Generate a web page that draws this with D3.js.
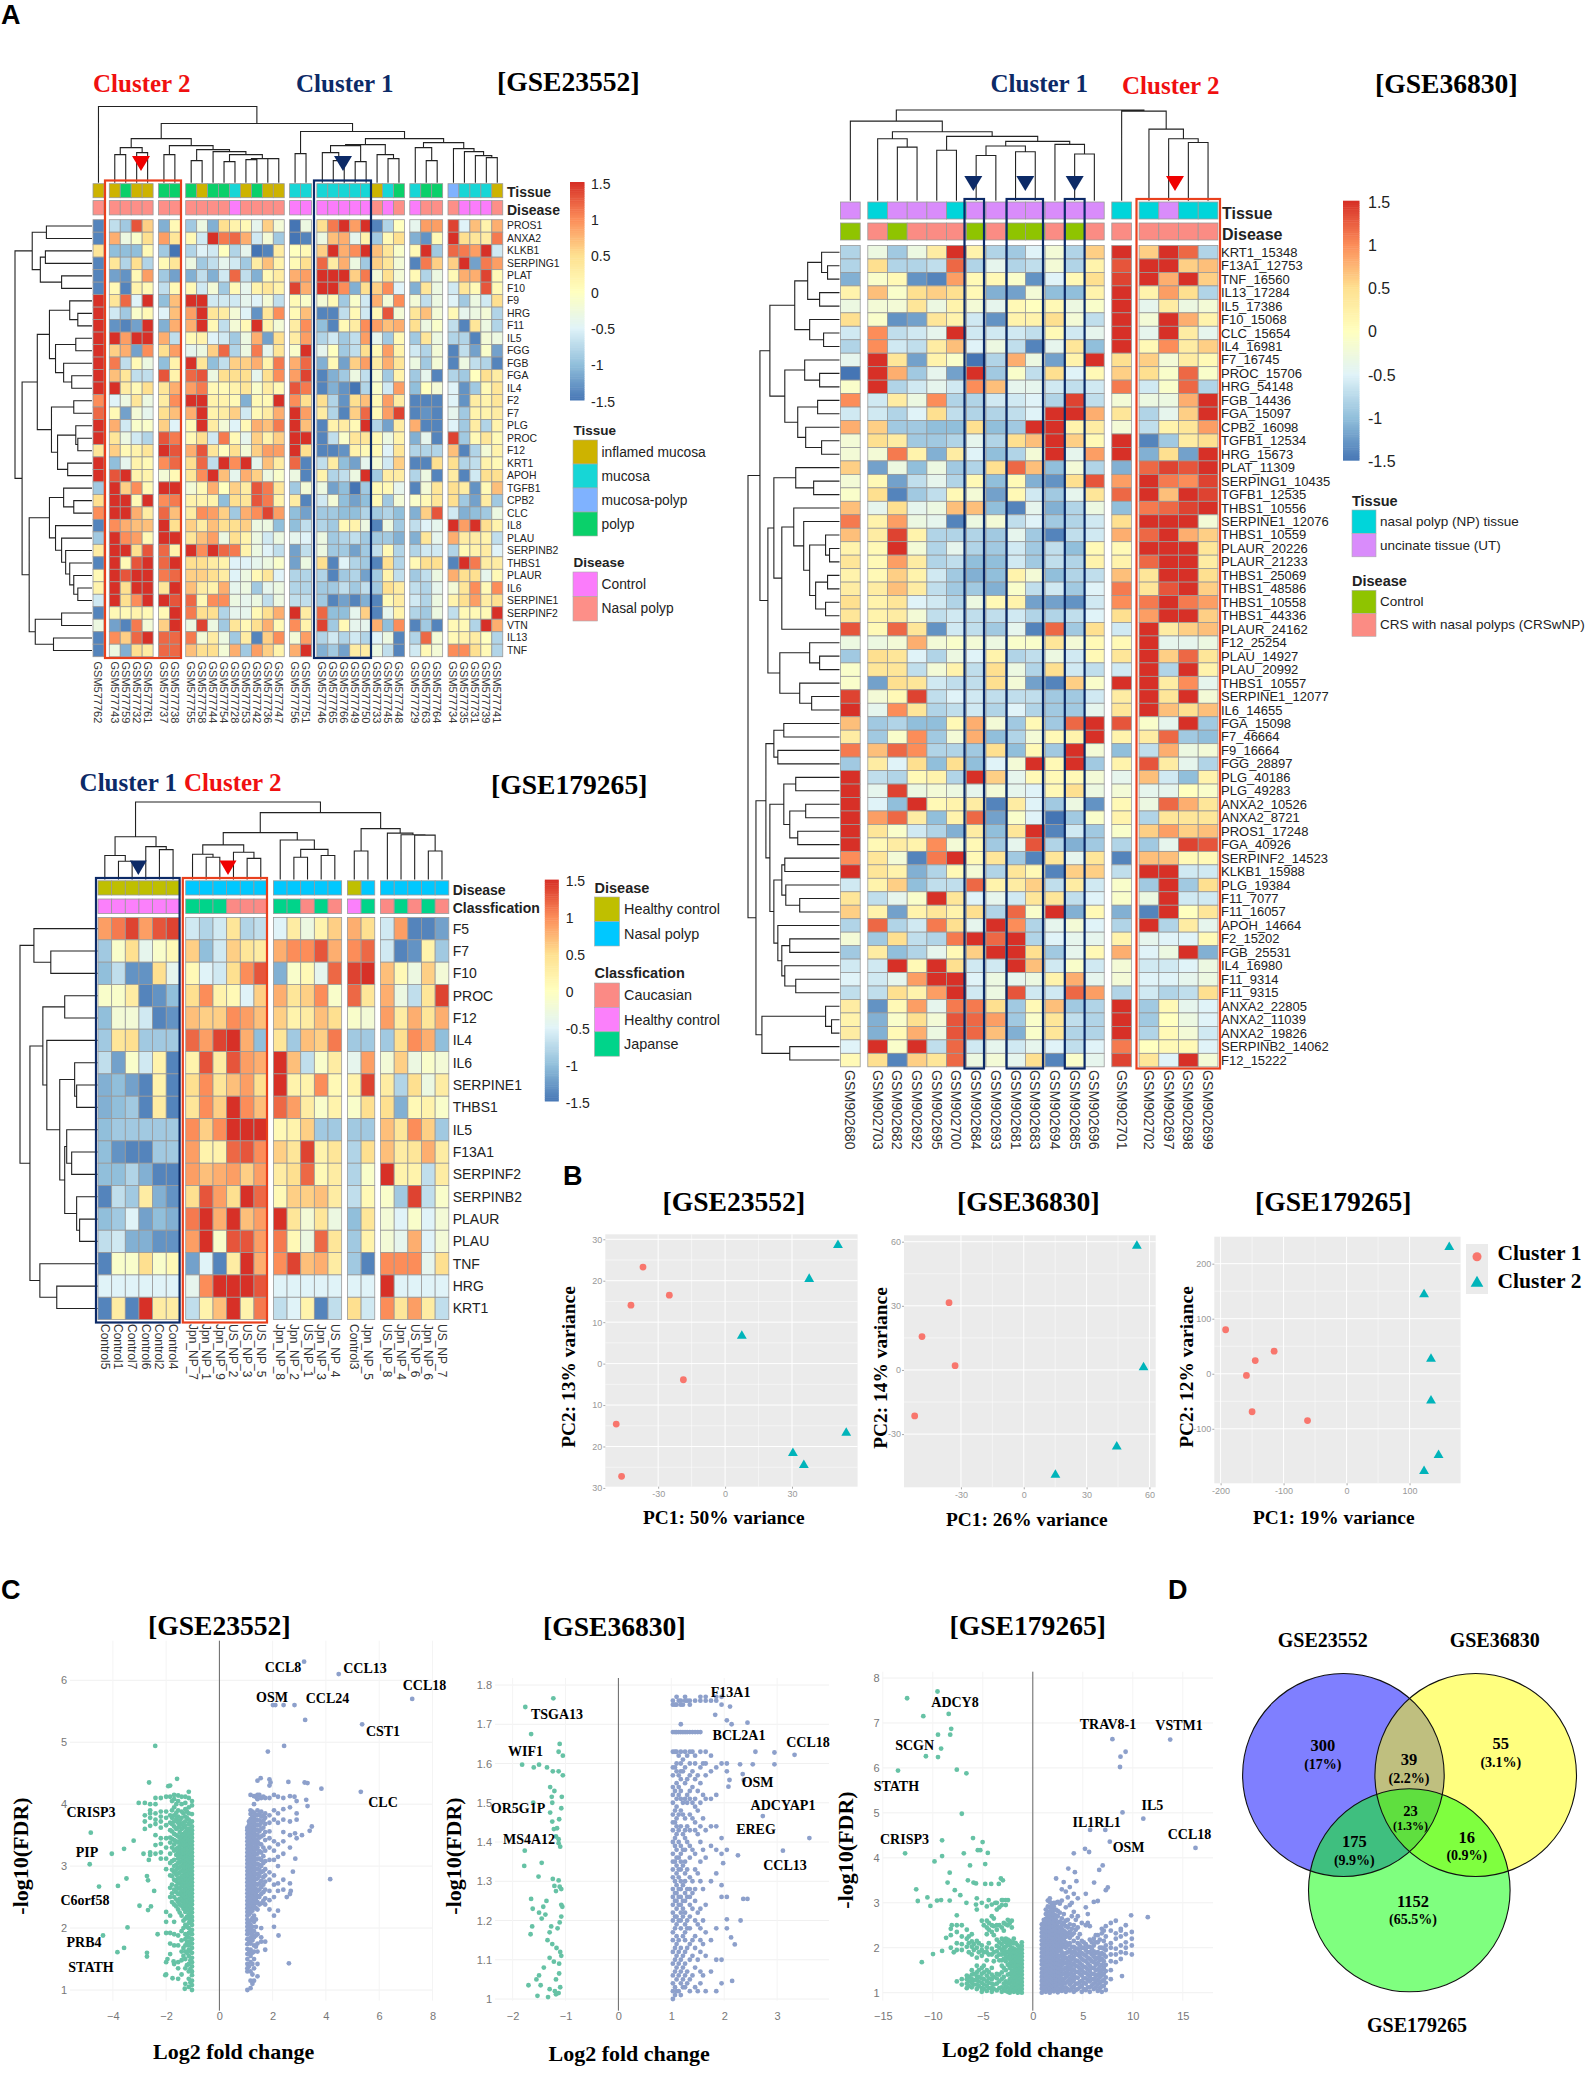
<!DOCTYPE html>
<html><head><meta charset="utf-8">
<style>html,body{margin:0;background:#fff}svg{display:block}text{font-family:"Liberation Sans",Arial,sans-serif}</style>
<script src="https://cdn.jsdelivr.net/npm/d3@7"></script></head>
<body><svg id="c" width="1595" height="2074"></svg>
<script>
// ---------- Panel A, GSE23552 ----------
const h1Rows=["PROS1","ANXA2","KLKB1","SERPING1","PLAT","F10","F9","HRG","F11","IL5","FGG","FGB","FGA","IL4","F2","F7","PLG","PROC","F12","KRT1","APOH","TGFB1","CPB2","CLC","IL8","PLAU","SERPINB2","THBS1","PLAUR","IL6","SERPINE1","SERPINF2","VTN","IL13","TNF"];
const h1Cols=["762","743","759","732","761","737","738","755","758","744","754","728","753","742","736","747","756","751","746","765","766","749","750","733","745","748","729","763","764","734","735","731","739","741"];
const h1Groups=[1,4,2,9,2,8,3,5];
const h1Tissue="iipiipppippmipiimmmmmmmimpmppbmmmi".split("");
const h1Disease="NNNNNNNNNNNCNNNNCCCCCCCNCNCNNNCCCN".split("");
const h1Values=[
[-14,-7,-9,13,6,-11,1,-9,-3,-11,5,2,1,-4,6,-2,-15,-3,5,11,15,9,15,-14,-8,0,-4,9,9,14,-5,7,2,8],
[-14,8,-3,-1,5,9,4,1,-6,15,11,12,8,-6,-2,-9,-15,-14,-3,7,8,-4,2,-9,1,5,-11,-13,1,15,5,4,3,11],
[4,-10,-10,-10,1,-9,-15,-8,-5,-6,0,-8,-4,-15,-14,3,0,1,6,15,8,10,15,7,4,-1,1,15,-9,12,11,9,15,-6],
[-14,4,-8,5,-8,1,4,-3,-9,-7,-4,-6,-9,3,7,2,1,5,12,3,8,-3,-9,6,4,-2,-14,11,6,6,15,-12,11,9],
[-14,-12,-13,1,9,-9,-12,-11,-7,-11,-6,12,-7,-11,1,3,8,9,15,15,15,6,11,-2,5,-2,1,-8,-3,1,8,8,14,1],
[-14,1,-14,2,1,-7,1,1,-6,-2,-9,1,-4,2,4,2,14,8,15,15,10,-11,5,6,10,-5,-11,4,-3,-6,4,1,13,1],
[15,4,12,-5,15,-10,7,15,15,-6,-6,-6,-4,-5,-2,-7,1,-1,-2,1,-9,-1,-6,8,-2,10,-2,-7,-3,-5,-9,-3,-6,5],
[15,-6,-9,-1,1,-5,7,9,15,4,3,-2,-5,-13,4,10,1,7,-14,-14,-7,1,-6,1,13,-2,4,7,-2,1,-4,-3,-2,-8],
[15,-13,-14,-12,15,-11,8,8,15,1,-7,-2,1,15,2,-2,3,10,-10,-14,1,3,10,9,7,8,5,-3,-1,-7,-14,4,-3,-8],
[15,15,9,15,15,8,-7,1,2,-5,-6,-9,-3,8,-12,5,3,9,-8,-6,-9,-7,9,-4,-9,1,-9,4,-3,-8,-8,-14,-2,-3],
[15,6,8,-12,10,5,9,-4,-3,6,12,-8,-3,11,-4,4,-1,15,-4,0,-9,-7,5,1,9,2,-6,-8,-2,-14,-7,-12,-1,-12],
[15,11,-7,1,-3,-10,2,15,4,-10,-7,6,6,8,2,11,8,12,-11,1,-12,6,9,3,8,4,-3,-9,-2,-14,-3,-7,-8,-14],
[15,7,4,-7,-7,13,2,12,13,-3,5,5,5,-4,5,10,9,14,-14,-11,-9,-3,-7,-2,-9,2,-9,-4,-14,-8,-9,0,5,3],
[15,15,3,1,5,4,8,9,11,1,1,2,4,-1,3,1,13,11,-14,-11,-13,-15,-8,-1,-6,9,-10,0,-2,-5,-13,-9,1,4],
[10,-5,-3,4,-3,3,10,15,15,2,2,1,-11,1,1,15,10,5,5,-8,-13,5,7,1,9,3,-14,-14,-14,-5,-13,3,2,4],
[12,1,-12,-2,-4,5,7,8,15,2,3,6,-6,1,3,8,15,9,3,-8,-14,6,12,1,9,14,-14,-13,-14,-4,-9,2,2,3],
[15,8,-6,-1,-1,6,-5,1,15,3,-2,-5,1,8,7,11,15,7,-14,2,3,1,15,-8,-12,3,8,-14,-14,-5,-9,3,-8,2],
[15,4,-3,-6,-8,13,11,1,5,-6,11,1,-4,6,2,6,15,15,-14,-7,-1,4,4,1,-3,2,-11,-4,-14,14,-9,1,4,1],
[4,6,1,2,4,15,13,8,13,4,0,5,-2,6,9,9,15,5,-14,-14,-13,2,1,1,-5,4,-8,-8,-8,7,-14,-8,-2,2],
[15,-10,-4,2,1,10,12,5,12,-7,15,10,15,-4,7,3,12,-14,-7,3,-10,-12,-4,-2,-6,6,-14,-14,5,5,-8,-7,2,1],
[15,13,15,2,2,-2,1,4,10,15,7,-4,8,6,-3,-1,-3,-14,2,-8,-7,-3,15,-9,3,3,-8,-3,-14,3,-14,-6,5,5],
[-9,15,6,10,1,15,15,-2,1,8,0,6,3,13,11,4,-9,-2,-3,-12,-10,-15,-9,1,1,-4,-14,-2,4,5,3,-13,1,7],
[5,15,15,1,15,10,11,2,2,2,-10,5,4,13,11,2,3,-14,-6,-2,-10,-12,-10,1,-9,-2,-1,1,4,5,-9,-12,3,-9],
[10,15,15,8,3,12,7,3,10,9,6,-9,8,10,14,9,-10,-12,-9,-9,-10,-10,-8,-9,-8,-10,-11,6,13,-6,-11,-10,-9,-3],
[-14,10,8,7,7,15,5,6,3,7,5,5,6,-3,-3,-10,-10,-7,-8,-9,1,2,-3,-14,-3,-9,-7,-5,-4,15,9,15,5,2],
[-9,15,10,9,1,15,15,4,7,9,-3,5,2,-3,-6,-3,-4,-5,-3,-9,-8,-7,-9,-9,-9,-11,-11,4,-4,8,3,3,2,-7],
[3,15,15,5,13,12,2,15,10,15,12,11,2,-3,-5,-7,-12,-7,-3,-9,-9,-12,-9,-7,1,-8,-8,-6,-6,-8,1,2,3,-5],
[-14,15,1,13,15,12,15,5,5,3,2,-5,-5,-4,-3,-1,-12,-3,5,-14,-5,-8,-9,-14,5,-8,1,5,5,-14,15,11,3,3],
[1,15,13,15,15,11,12,6,6,5,3,-5,-3,1,4,-5,-8,-8,-8,-14,-9,-8,-12,-9,2,-7,-9,-7,-3,8,5,5,-4,1],
[2,15,5,15,15,4,15,7,3,2,8,-4,-3,-9,-4,-3,-8,-8,-9,-9,-7,-9,-7,-9,5,3,-7,-8,-4,-2,4,10,1,10],
[-6,15,5,10,15,15,13,12,1,10,10,-3,-4,-3,-7,-3,-7,-7,-9,-14,-12,-14,-11,-14,1,3,-6,-8,-3,2,5,9,3,5],
[-14,1,1,2,1,1,15,11,5,5,-8,-4,-4,1,5,8,15,3,12,-10,-10,-4,6,-14,-4,2,-8,-9,-3,-7,1,1,1,15],
[-3,-12,-14,11,-2,6,15,-3,14,-3,-9,4,1,5,8,1,10,2,14,-9,1,-4,-4,8,-10,10,-14,-9,-14,1,1,-8,15,8],
[-14,10,6,12,15,12,12,11,-2,3,-3,-9,3,-14,6,10,-2,9,-8,-6,-8,-6,-8,-5,-3,-14,-8,12,-2,1,2,3,0,-8],
[-14,-3,-11,5,3,12,12,7,5,5,-2,8,-9,9,6,2,8,15,-11,-9,-12,3,3,-3,-7,-14,-6,1,-2,10,10,5,1,-8]];
const h1ColTree=[76,0,[59,[44,[35,[28,1,2],[30,3,4]],[37,[28,5,6],[33,[22,7,8],[31,9,[28,[21,10,11],[24,[23,12,13],[24,14,15]]]]]]],[51,[29,16,17],[44,[38,[37,[30,18,[22,19,20]],[21,21,22]],[28,23,[24,24,25]]],[40,[35,26,[22,27,28]],[34,29,[31,30,[27,31,[25,32,33]]]]]]]]];
const h1RowTree=[76,[59,[45,0,1],[51,[46,2,3],[30,4,5]]],[69,[54,[42,[22,6,[14,7,8]],[36,[16,9,10],[28,11,[20,12,13]]]],[40,[18,14,15],[34,[16,16,[14,17,18]],[24,19,20]]]],[62,[42,[28,21,[18,22,23]],[36,24,[30,25,[26,26,[22,27,[18,28,[14,29,30]]]]]]],[56,[30,31,32],[38,33,34]]]]];

// ---------- Panel A, GSE36830 ----------
const h2Rows=["KRT1_15348","F13A1_12753","TNF_16560","IL13_17284","IL5_17386","F10_15068","CLC_15654","IL4_16981","F7_16745","PROC_15706","HRG_54148","FGB_14436","FGA_15097","CPB2_16098","TGFB1_12534","HRG_15673","PLAT_11309","SERPING1_10435","TGFB1_12535","THBS1_10556","SERPINE1_12076","THBS1_10559","PLAUR_20226","PLAUR_21233","THBS1_25069","THBS1_48586","THBS1_10558","THBS1_44336","PLAUR_24162","F12_25254","PLAU_14927","PLAU_20992","THBS1_10557","SERPINE1_12077","IL6_14655","FGA_15098","F7_46664","F9_16664","FGG_28897","PLG_40186","PLG_49283","ANXA2_10526","ANXA2_8721","PROS1_17248","FGA_40926","SERPINF2_14523","KLKB1_15988","PLG_19384","F11_7077","F11_16057","APOH_14664","F2_15202","FGB_25531","IL4_16980","F11_9314","F11_9315","ANXA2_22805","ANXA2_11039","ANXA2_19826","SERPINB2_14062","F12_15222"];
const h2Cols=["GSM902680","GSM902703","GSM902682","GSM902692","GSM902695","GSM902700","GSM902684","GSM902693","GSM902681","GSM902683","GSM902694","GSM902685","GSM902696","GSM902701","GSM902702","GSM902697","GSM902698","GSM902699"];
const h2Groups=[1,12,1,4];
const h2Tissue="UNUUUNUUUUUUUNNUNN".split("");
const h2Disease="CRCRRRCRCCRCRRRRRR".split("");
const h2Values=[
[-8,-3,-9,-3,3,15,2,-8,-9,-5,-2,-8,6,15,6,15,12,-8],
[-8,5,-8,-8,-7,12,-8,-4,-8,-7,-2,-8,2,13,15,15,6,7],
[-11,-1,1,-13,-14,9,1,1,-1,-13,-5,1,5,14,15,8,15,6],
[2,7,-1,5,6,5,1,-11,-12,-2,-10,-10,2,15,2,9,5,-8],
[-3,-2,-2,4,-3,2,-2,-4,1,0,1,-3,-1,15,-4,3,-3,-2],
[5,-1,-13,-12,4,2,-6,-13,2,2,5,-2,-7,15,-2,15,8,2],
[-6,10,-7,-6,-4,15,-6,-6,-6,-7,1,-6,-4,15,-4,15,3,-4],
[-8,10,-6,-7,3,7,-5,-3,-7,-14,-4,4,-10,15,1,10,3,6],
[-4,15,4,-12,2,-1,-15,-8,8,-3,-12,2,15,5,6,-2,3,1],
[-15,15,8,-9,-4,-12,15,-9,-1,-7,5,-5,1,6,5,-1,12,-1],
[-1,15,-8,-6,-4,-6,10,7,-4,-4,-6,-7,-6,11,-6,-1,12,-8],
[10,-6,3,-3,10,-8,-8,-6,-6,-5,-8,14,-7,-2,-3,-3,8,15],
[-6,-6,-8,-5,5,-7,-8,-8,-7,-5,15,15,8,4,-8,-4,6,15],
[8,6,-9,-9,-10,-10,5,-10,-9,15,15,2,3,-2,-7,2,4,9],
[-2,5,3,-9,-9,-8,-4,-8,5,7,15,6,1,15,-14,-9,3,5],
[-2,-2,11,2,-11,3,-5,-10,-8,-2,15,-4,9,15,-11,5,-12,15],
[6,-12,-3,-10,-3,-9,-8,5,12,7,-10,-2,-8,-11,12,14,13,15],
[-2,1,-12,-7,-4,-8,1,-10,1,-11,-13,5,13,9,15,11,10,14],
[-1,5,-14,-9,-7,1,-2,-12,1,-6,-9,-4,4,12,15,7,15,14],
[7,-4,5,-4,-3,7,7,-10,-14,-4,-11,-8,-3,-10,11,12,14,15],
[11,2,9,-3,-4,-14,-3,-2,-7,-5,-9,-8,-6,5,15,15,15,-2],
[7,3,14,2,-8,-8,-8,-9,-4,-9,-14,-7,-6,8,12,15,8,6],
[2,1,15,-2,-8,-4,-8,-9,-6,-9,-7,-10,1,1,15,15,15,4],
[4,1,9,3,-8,-7,-10,-10,-6,-9,-7,-8,2,2,12,15,15,3],
[2,1,6,2,-6,-9,-11,-10,2,-2,-10,-8,-7,7,4,15,15,5],
[3,3,7,3,-7,-9,-9,-11,-1,-7,-6,-9,-5,11,4,13,15,6],
[5,2,4,-5,-6,-8,-3,1,2,-12,-12,-13,-6,10,11,15,11,9],
[4,2,3,-2,-7,-6,-7,-7,-6,-8,-8,-7,-5,5,9,15,15,6],
[13,1,12,4,-13,-6,-7,-9,-4,-14,12,-9,5,-6,15,3,6,7],
[-3,-3,-2,8,-2,-1,-2,-3,-1,-1,4,-2,1,1,15,-4,-4,-3],
[-9,5,4,-5,-8,-3,-5,2,-8,-7,-3,-6,1,4,15,6,12,4],
[-1,4,4,-7,-2,2,-7,5,-3,-8,5,-6,-7,-6,15,-8,15,2],
[-1,-12,5,4,-6,-7,-7,5,-2,-12,-14,6,-1,15,15,3,10,-4],
[14,-2,1,14,-7,-5,-6,-7,-7,-7,-9,-9,-6,3,15,4,15,-2],
[15,-4,10,4,-8,-7,-6,-8,-5,-8,-9,-9,-4,4,15,7,5,7],
[7,-9,-8,-10,-10,1,8,-2,-9,1,-9,12,15,13,-1,-4,15,-9],
[3,-9,-1,10,-9,-2,8,-10,-8,-2,1,2,15,2,3,12,-9,-10],
[11,7,12,10,-8,-8,-9,5,-10,1,-9,15,-2,-10,-7,8,-3,-2],
[-9,3,-5,5,-10,5,-10,-5,-2,15,1,15,-9,2,13,3,-4,-8],
[15,-7,-8,1,2,-8,15,6,-4,1,1,1,-2,-4,7,-6,-10,2],
[15,-4,14,-3,-2,-3,-4,-2,-4,-5,1,5,-3,-2,-4,-4,0,-1],
[15,-5,-10,15,1,2,3,-14,3,-5,-9,-3,-13,1,-3,12,8,4],
[15,9,12,3,-10,2,12,-12,-1,-5,-15,-9,-1,2,-8,4,4,4],
[15,4,-1,-6,-8,-11,3,-10,4,15,-14,-6,-9,-1,6,9,6,7],
[15,1,3,2,10,-2,1,-9,-4,13,-8,-11,-9,-8,-9,-4,14,13],
[10,4,-2,-14,11,15,1,4,-9,-14,4,-4,4,-14,7,7,1,1],
[15,4,2,-11,-8,1,-2,-8,4,1,-14,6,6,-7,15,15,-6,-6],
[-6,2,6,-10,-7,-7,12,2,3,6,-7,3,-6,-1,-9,15,-9,5],
[4,-7,-4,-1,15,4,-5,-4,-6,4,4,-7,-5,-1,-3,15,-6,-6],
[6,2,-12,2,4,2,5,-8,12,-1,15,-11,1,-11,-14,15,0,4],
[-8,12,-8,-6,11,5,-4,15,10,-8,-4,-2,-5,-8,15,-8,3,-4],
[-2,-9,5,-7,-8,11,15,12,15,-8,-5,-4,-4,2,-4,-5,-5,1],
[-9,3,-10,-8,-4,1,6,15,15,5,-9,-4,1,8,-5,-3,15,-11],
[-6,-6,15,1,15,5,-6,-6,15,7,-6,-1,-6,-2,-6,-6,-5,-3],
[-5,-6,-4,9,15,15,-5,-3,-4,-3,2,8,-4,-2,-5,-5,-4,-3],
[-7,-7,5,2,9,15,-6,-3,13,-6,-6,12,9,-8,-6,-8,-7,5],
[3,-13,1,9,-4,11,11,5,-9,1,7,-9,-8,15,-9,1,-4,-5],
[2,-11,-1,5,-2,13,12,9,-9,-1,4,-7,-8,15,-9,0,-3,-5],
[3,-11,1,8,-3,13,12,7,-11,-1,4,-8,-8,15,-8,1,-2,-6],
[-5,15,-1,15,-7,12,-6,-4,-6,-4,-5,-7,-5,11,0,1,1,-5],
[1,5,-14,6,4,12,-3,-2,-4,5,-14,-1,-4,14,4,-5,15,-2]];
const h2ColTree=[90.7,[79.6,0,[68.9,[62,1,[53.6,2,3]],[64.3,[50.5,4,5],[59.3,[54.7,[45.2,6,7],[49,8,9]],[56.3,10,[46.7,11,12]]]]]],[89.6,13,[71.6,14,[62,15,[58.2,16,17]]]]];
const h2RowTree=[92,[80,[70,[45,[32,[18,0,[12,1,2]],[20,3,4]],[30,5,[16,6,7]]],[55,[35,8,[20,9,10]],[42,[22,11,12],[34,13,[18,14,15]]]]],[72,[66,[44,16,[26,17,18]],[58,[46,19,[36,20,[30,[14,21,[10,22,23]],[24,[12,24,25],[14,26,27]]]]],28]],[60,[30,29,[20,30,31]],[40,32,[28,33,34]]]]],[84,[74,[66,[56,35,36],[62,37,38]],[70,[56,[44,39,40],[50,[34,41,42],[42,43,44]]],[66,[58,[55,45,46],[54,47,[40,48,49]]],[62,50,[58,[50,51,52],[55,53,[44,54,55]]]]]]],[78,[14,56,[8,57,58]],[50,59,60]]]];

// ---------- Panel A, GSE179265 ----------
const h3Rows=["F5","F7","F10","PROC","F12","IL4","IL6","SERPINE1","THBS1","IL5","F13A1","SERPINF2","SERPINB2","PLAUR","PLAU","TNF","HRG","KRT1"];
const h3Cols=["Control5","Control1","Control7","Control6","Control2","Control4","Jpn_NP_7","Jpn_NP_1","Jpn_NP_9","US_NP_2","US_NP_3","US_NP_5","Jpn_NP_8","Jpn_NP_2","US_NP_1","Jpn_NP_3","US_NP_4","Control3","Jpn_NP_5","US_NP_8","Jpn_NP_4","US_NP_6","Jpn_NP_6","US_NP_7"];
const h3Groups=[6,6,5,2,5];
const h3Disease="HHHHHHNNNNNNNNNNNHNNNNNN".split("");
const h3Class="KKKKKKJJJCCCJJCJCKJCJCJC".split("");
const h3Values=[
[9,11,14,9,13,14,-6,-8,-6,4,-8,-7,-5,3,-3,2,6,8,5,-6,9,-14,-14,-12],
[-9,-1,5,-4,-1,1,6,-10,-6,6,4,3,8,10,10,13,8,10,12,-6,-14,-13,2,-9],
[-10,-7,-13,-13,5,-4,1,-5,-6,5,10,13,-11,-1,1,-4,12,14,15,7,1,-3,6,-2],
[-1,-1,3,-14,-13,-10,5,10,2,1,-5,6,8,4,6,10,-1,12,4,8,-3,-7,4,14],
[-10,-2,-2,-6,-14,-13,7,6,6,10,9,7,6,2,3,7,5,-1,-2,9,3,8,4,8],
[-9,4,5,-9,-9,-9,12,9,14,15,8,-10,4,-9,7,6,11,-9,-9,-9,5,10,8,-10],
[-7,-12,-1,-6,2,-14,2,13,3,13,9,8,15,7,-7,-1,3,-4,9,-2,6,-3,-1,-2],
[-11,-10,-12,-14,2,-14,5,10,4,7,9,5,15,2,2,10,1,2,14,3,-8,5,-3,3],
[-11,-10,-9,-14,3,-14,4,10,6,15,10,7,12,9,3,-1,2,-1,5,5,-11,1,2,-1],
[-10,-9,-9,-9,-9,-9,10,6,10,15,15,15,1,2,6,-9,-9,-9,-9,7,4,10,6,-9],
[-10,-13,-14,-14,-9,-9,9,2,2,12,13,10,6,4,14,2,4,-8,5,7,3,4,8,3],
[-10,-10,-8,-11,-14,-14,9,7,8,9,6,9,3,5,12,1,3,-8,-1,15,2,2,-7,3],
[-14,-7,-9,3,-11,-13,5,13,9,5,15,12,1,6,6,7,3,-7,1,-1,-9,14,-7,-1],
[-10,-9,-5,-12,-10,-11,11,15,8,15,7,9,15,4,-2,4,-3,-10,4,-2,-5,-1,-5,-2],
[-7,-6,-11,-11,-13,-13,9,15,-1,13,13,9,11,1,-3,12,4,-9,2,-2,-4,8,-5,-2],
[-14,-1,-1,5,-1,1,-12,-5,-14,3,15,8,10,14,7,8,3,-9,-14,10,10,10,-4,5],
[-5,-5,-5,-5,-5,-5,-4,10,15,15,15,13,-5,-5,-5,-5,-5,-5,-5,15,-5,-5,-5,-5],
[-14,3,-14,15,3,3,-7,2,7,15,2,11,-7,-5,2,-14,-7,5,-6,10,4,9,3,-7]];
const h3ColTree=[77.6,[42.9,[24.1,0,[18.4,1,2]],[33,3,[30,4,5]]],[67,[47,[34.7,[25.3,6,[22.4,7,8]],[27.3,9,[21.2,10,11]]],[39.6,12,[30.2,[22.4,13,14],[24.1,15,16]]]],[51,[28.6,17,18],[46.5,19,[44.9,20,[44.5,21,[28.6,22,23]]]]]]];
const h3RowTree=[78,[64,0,[47,1,2]],[68,[55,[33,3,4],[51,5,[38,[23,6,[21,7,8]],[33,[31,9,[26,10,11]],[21,12,[18,13,14]]]]]],[58,15,[41,16,17]]]];

// ---------- Panel B, PCA ----------
const pca1C1=[[-36.8,23.3],[-25,16.5],[-42.2,14.1],[-18.7,-3.9],[-48.8,-14.6],[-46.4,-27.2]];
const pca1C2=[[50.6,28.6],[37.7,20.4],[7.5,6.7],[54.3,-16.7],[30.4,-21.6],[35.3,-24.5]];
const pca2C1=[[-35.7,31.5],[-48.6,15.6],[-32.8,2],[-52.1,-21.5]];
const pca2C2=[[54,58],[57.2,1.2],[44.4,-35.9],[15.1,-49.1]];
const pca3C1=[[-192,80],[-115,41],[-145,24],[-159,-3],[-150,-69],[-62,-85]];
const pca3C2=[[163,230],[123,144],[134,27],[134,-49],[146,-148],[123,-177]];

// ---------- Panel C, volcano: columns are [log2FC, -log10FDR, -log10FDR, ...] ----------
const v1DownCols=[
[-1.03,1,1.08,1.15,1.24,1.3,1.38,1.45,1.52,1.6,1.68,1.75,1.82,1.9,1.97,2.05,2.12,2.18,2.25,2.31,2.38,2.44,2.5,2.56,2.62,2.68,2.74,2.8,2.86,2.92,2.98,3.04,3.1,3.16,3.22,3.28,3.34,3.4,3.46,3.52,3.58,3.64,3.72,3.84,3.98,4.05],
[-1.09,1.12,1.34,1.48,1.62,1.78,1.94,2.09,2.2,2.27,2.35,2.41,2.47,2.53,2.59,2.65,2.71,2.77,2.83,2.89,2.95,3.01,3.07,3.13,3.19,3.25,3.31,3.37,3.43,3.49,3.55,3.61,3.7],
[-1.15,1.05,1.18,1.3,1.42,1.55,1.65,1.72,1.78,1.85,1.92,2,2.08,2.15,2.22,2.28,2.34,2.4,2.46,2.52,2.58,2.64,2.7,2.76,2.82,2.88,2.94,3,3.06,3.12,3.18,3.24,3.3,3.36,3.42,3.48,3.54,3.6,3.68,3.75,3.85,3.95,4.1,4.2],
[-1.22,1.4,1.6,1.76,1.88,2.02,2.18,2.3,2.36,2.42,2.48,2.54,2.6,2.66,2.72,2.78,2.84,2.9,2.96,3.02,3.08,3.14,3.2,3.26,3.32,3.38,3.44,3.5,3.6,3.78,3.88],
[-1.28,1.1,1.35,1.5,1.62,1.72,1.82,1.9,2.05,2.15,2.26,2.33,2.39,2.45,2.51,2.57,2.63,2.69,2.75,2.81,2.87,2.93,2.99,3.05,3.11,3.17,3.23,3.29,3.35,3.41,3.47,3.55,3.65,3.72,3.8,3.92,4.02,4.12],
[-1.35,1.55,1.68,2,2.12,2.31,2.37,2.43,2.49,2.55,2.61,2.67,2.73,2.79,2.85,2.91,2.97,3.03,3.09,3.15,3.21,3.27,3.33,3.39,3.45,3.52,3.62,3.7,3.85],
[-1.42,1.25,1.48,1.62,1.8,1.95,2.2,2.36,2.44,2.52,2.6,2.68,2.76,2.84,2.92,3,3.08,3.14,3.2,3.27,3.35,3.42,3.5,3.6,3.68,3.78,3.88,4,4.12],
[-1.49,2.25,2.38,2.47,2.56,2.64,2.72,2.8,2.9,2.98,3.06,3.16,3.24,3.32,3.4,3.46,3.55,3.66,3.74],
[-1.55,1.18,1.35,1.45,1.72,1.88,2.3,2.42,2.55,2.64,2.72,2.8,2.88,2.97,3.05,3.12,3.22,3.3,3.38,3.48,3.62,3.7,3.8,3.9,4.05,4.14],
[-1.62,2.35,2.46,2.58,2.68,2.76,2.86,2.94,3.02,3.18,3.28,3.4,3.5,3.6,3.76,3.86,4],
[-1.7,1.42,1.72,1.9,2.1,2.38,2.5,2.62,2.78,2.9,3,3.1,3.25,3.35,3.42,3.52,3.64,3.72,3.82,3.95,4.08,4.15],
[-1.78,2.42,2.56,2.7,2.84,2.94,3.08,3.3,3.44,3.56,3.68,3.78,3.9,4.05],
[-1.85,1.58,1.75,1.92,2.2,2.5,2.65,2.85,3.05,3.2,3.38,3.46,3.58,3.7,3.82,4.12,4.3],
[-2,1.25,1.45,1.92,2.1,2.26,2.95,3.12,3.3,3.45,3.66,3.78,3.88,4.12],
[-2.2,3.12,3.22,3.36,3.45,3.62,3.72,3.8,3.88,4.1],
[-2.4,3.2,3.34,3.5,3.68,3.75,3.85,4,4.1],
[-2.6,3.22,3.65,3.78,3.85,3.9,4],
[-2.8,3.72,3.82,3.6,4.02]];
const v1DownOut=[[-2.41,4.94],[-1.59,4.41],[-2.64,4.35],[-1.92,4.29],[-4.83,3.54],[-3.22,3.41],[-3.58,3.28],[-4.04,3.2],[-4.87,3.03],[-3.49,2.8],[-3.81,2.68],[-4.52,2.67],[-2.72,2.84],[-2.68,2.77],[-2.45,2.6],[-3,2.36],[-2.57,2.35],[-2.68,2.29],[-3.45,2.01],[-2.32,1.9],[-4.37,1.88],[-3.58,1.68],[-3.83,1.61],[-2.72,1.6],[-2.72,1.54],[-2.03,1.24],[-1.76,1.19],[-1.3,1.02],[-1.95,1.5],[-1.72,1.46],[-3.03,4.02],[-2.6,3.18],[-2.65,3.1],[-2.85,3.2]];
const v1UpCols=[
[1.05,1,1.3,1.35,1.42,1.5,1.58,1.66,1.74,1.82,1.9,1.96,2.02,2.08,2.14,2.2,2.26,2.32,2.38,2.44,2.5,2.56,2.62,2.68,2.74,2.8,2.86,2.92,2.98,3.04,3.1,3.16,3.22,3.28,3.34,3.4,3.46,3.52,3.58,3.62],
[1.11,1.38,1.6,1.8,1.94,2,2.1,2.22,2.28,2.34,2.4,2.46,2.52,2.58,2.64,2.7,2.76,2.82,2.88,2.94,3,3.06,3.12,3.18,3.24,3.3,3.36,3.42,3.48,3.54,3.6,3.66,3.72],
[1.17,1.03,1.15,1.3,1.45,1.55,1.65,1.75,1.85,1.92,1.98,2.05,2.12,2.25,2.31,2.37,2.43,2.49,2.55,2.61,2.67,2.73,2.79,2.85,2.91,2.97,3.03,3.09,3.15,3.21,3.27,3.33,3.39,3.45,3.51,3.57,3.63,3.7,3.76,3.84,3.9,4.15],
[1.24,1.1,1.25,1.42,1.6,1.8,1.9,2.02,2.16,2.28,2.34,2.4,2.46,2.52,2.58,2.64,2.7,2.76,2.82,2.88,2.94,3,3.06,3.12,3.18,3.24,3.3,3.36,3.42,3.48,3.54,3.6,3.66,3.72,3.8,3.88],
[1.3,1.15,1.35,1.5,1.62,1.72,1.85,1.95,2.1,2.2,2.35,2.43,2.5,2.58,2.66,2.74,2.82,2.9,2.98,3.06,3.14,3.22,3.3,3.38,3.46,3.54,3.62,3.7,3.78,3.86,4,4.13],
[1.37,1.7,1.88,2.02,2.14,2.32,2.4,2.47,2.55,2.63,2.71,2.79,2.87,2.95,3.03,3.11,3.19,3.27,3.35,3.43,3.51,3.59,3.67,3.75,3.83,4.12],
[1.43,1.22,1.42,1.62,1.75,1.9,2.3,2.42,2.52,2.6,2.7,2.8,2.88,2.96,3.04,3.12,3.2,3.3,3.4,3.5,3.58,3.66,3.74,3.82,3.9,4.08,4.15,4.38],
[1.5,2.38,2.5,2.62,2.72,2.84,2.94,3.02,3.12,3.24,3.36,3.46,3.56,3.66,3.74,3.84,4.15],
[1.57,1.78,1.85,2,2.4,2.55,2.66,2.76,2.9,3,3.1,3.22,3.35,3.48,3.6,3.7,3.8,3.88,4.1],
[1.65,2.44,2.58,2.7,2.82,2.92,3.05,3.16,3.3,3.5,3.62,3.74,3.82,4.12],
[1.72,1.65,1.78,2.38,2.48,2.62,2.75,2.85,2.95,3.08,3.25,3.42,3.55,3.68,3.78,3.85,4.1],
[1.88,2.3,2.45,2.6,2.78,2.9,3.1,3.3,3.45,3.56,3.7,3.82,4.1,4.3,4.4],
[2.05,2.02,2.2,2.5,2.7,2.85,3.1,3.25,3.4,3.75,3.9,4.15],
[2.2,2.28,2.6,2.72,3,3.15,3.35,3.7,3.85,4.12],
[2.4,2.62,2.78,3.2,3.4,3.55,3.75,3.92,4.1],
[2.65,2.55,2.72,3.3,3.5,3.72,3.95,4.13],
[2.9,3.45,3.75,3.85,4.05]];
const v1UpOut=[[3.18,6.3],[4.48,6.1],[7.24,5.7],[2.01,5.6],[2.1,5.6],[2.41,5.6],[2.82,5.6],[3.22,5.36],[5.36,5.29],[2.43,4.94],[1.82,4.85],[3.2,4.35],[3.31,4.34],[3.83,4.25],[5.31,4.2],[4.16,2.79],[3.47,3.64],[3.39,3.57],[3.1,3.5],[2.84,3.53],[2.59,4.36],[1.92,4.35],[1.55,4.42],[2.61,1.43],[2.22,1.88],[2.85,3.12],[2.76,2.91],[2.68,2.6],[2.53,2.5],[3.26,4.07],[2.82,4.12],[3.31,3.97]];
const v2Down=[[-1.23,1.766],[-1.76,1.744],[-1.65,1.675],[-1.11,1.65],[-1.13,1.63],[-1.05,1.62],[-1.82,1.597],[-1.6,1.59],[-1.5,1.597],[-1.35,1.59],[-1.24,1.58],[-1.13,1.58],[-1.05,1.57],[-1.29,1.54],[-1.21,1.53],[-1.07,1.515],[-1.26,1.515],[-1.61,1.5],[-1.25,1.5],[-1.08,1.486],[-1.29,1.475],[-1.12,1.458],[-1.25,1.452],[-1.16,1.435],[-1.22,1.433],[-1.13,1.407],[-1.18,1.414],[-1.1,1.388],[-1.77,1.378],[-1.13,1.397],[-1.45,1.347],[-1.78,1.339],[-1.51,1.312],[-1.24,1.306],[-1.13,1.302],[-1.21,1.288],[-1.11,1.286],[-1.18,1.275],[-1.08,1.28],[-1.65,1.255],[-1.36,1.25],[-1.08,1.24],[-1.06,1.235],[-1.42,1.235],[-1.62,1.23],[-1.5,1.22],[-1.38,1.215],[-1.08,1.21],[-1.45,1.205],[-1.11,1.195],[-1.63,1.185],[-1.27,1.185],[-1.66,1.165],[-1.3,1.17],[-1.15,1.18],[-1.34,1.15],[-1.25,1.14],[-1.17,1.13],[-1.1,1.12],[-1.3,1.105],[-1.08,1.11],[-1.22,1.095],[-1.12,1.09],[-1.41,1.08],[-1.5,1.06],[-1.12,1.065],[-1.18,1.05],[-1.55,1.05],[-1.47,1.035],[-1.1,1.03],[-1.7,1.035],[-1.3,1.025],[-1.2,1.02],[-1.13,1.015],[-1.53,1.008],[-1.33,1.005],[-1.18,1.012]];
const v2UpCols=[
[1.03,1,1.02,1.04,1.06,1.09,1.12,1.15,1.17,1.2,1.22,1.24,1.26,1.28,1.31,1.33,1.35,1.37,1.4,1.43,1.45,1.47,1.5,1.52,1.54,1.57,1.59,1.63,1.68,1.75,1.76],
[1.07,1.01,1.03,1.07,1.1,1.13,1.18,1.21,1.25,1.27,1.3,1.35,1.39,1.41,1.45,1.48,1.53,1.59,1.63,1.68,1.75],
[1.1,1.02,1.05,1.08,1.11,1.14,1.16,1.19,1.21,1.23,1.25,1.27,1.29,1.32,1.34,1.36,1.38,1.42,1.44,1.46,1.49,1.51,1.55,1.58,1.6,1.63,1.68,1.75,1.77],
[1.14,1.02,1.06,1.09,1.12,1.15,1.2,1.24,1.26,1.28,1.31,1.33,1.36,1.4,1.43,1.47,1.52,1.54,1.57,1.62,1.68,1.76],
[1.18,1.01,1.04,1.07,1.1,1.13,1.18,1.2,1.22,1.24,1.26,1.28,1.3,1.33,1.35,1.37,1.39,1.44,1.48,1.51,1.53,1.56,1.58,1.6,1.63,1.68,1.7,1.75,1.76],
[1.22,1.03,1.05,1.08,1.11,1.16,1.21,1.23,1.25,1.29,1.34,1.38,1.42,1.47,1.5,1.58,1.61,1.68,1.75],
[1.26,1.03,1.06,1.09,1.12,1.15,1.17,1.19,1.22,1.25,1.27,1.3,1.32,1.35,1.38,1.41,1.43,1.46,1.51,1.55,1.59,1.63,1.68,1.76,1.77],
[1.3,1.04,1.07,1.13,1.18,1.2,1.26,1.28,1.33,1.4,1.44,1.5,1.52,1.56,1.62,1.68,1.76],
[1.35,1.02,1.05,1.1,1.14,1.18,1.21,1.24,1.26,1.28,1.31,1.36,1.39,1.43,1.47,1.51,1.53,1.57,1.6,1.63,1.68,1.76,1.75],
[1.4,1.06,1.11,1.15,1.23,1.27,1.3,1.38,1.46,1.5,1.54,1.58,1.63,1.68],
[1.45,1.03,1.08,1.13,1.16,1.2,1.25,1.28,1.33,1.37,1.43,1.45,1.49,1.51,1.56,1.6,1.62,1.68,1.76],
[1.5,1.02,1.1,1.19,1.22,1.32,1.42,1.48,1.53,1.57,1.68],
[1.55,1.04,1.07,1.12,1.15,1.18,1.23,1.3,1.35,1.4,1.44,1.5,1.55,1.59,1.63,1.68,1.77,1.76],
[1.6,1.06,1.14,1.2,1.28,1.38,1.46,1.52,1.6],
[1.65,1.02,1.11,1.17,1.24,1.36,1.43,1.51,1.57,1.6,1.63,1.77,1.76],
[1.75,1.07,1.15,1.3,1.39,1.44,1.51,1.58,1.62,1.76],
[1.85,1.02,1.1,1.18,1.32,1.38,1.44,1.52,1.59,1.76,1.77],
[1.95,1.04,1.1,1.26,1.29,1.37,1.41,1.6,1.77,1.75],
[2.05,1.18,1.26,1.38,1.6,1.58,1.71]];
const v2UpOut=[[2.44,1.704],[2.14,1.7],[2.11,1.745],[1.83,1.724],[2.59,1.63],[2.95,1.628],[3.33,1.622],[2.3,1.598],[2.54,1.598],[2.95,1.598],[2.35,1.573],[2.1,1.558],[2.08,1.541],[2.37,1.558],[2.73,1.466],[3.11,1.378],[2.26,1.366],[1.98,1.346],[2.44,1.255],[2.36,1.255],[2.31,1.2],[2.05,1.203],[2.13,1.157],[2.2,1.139],[2.15,1.046],[3.61,1.41]];
const v3DownCols=[
[-1.1,1,1.08,1.16,1.24,1.32,1.4,1.48,1.56,1.64,1.72,1.8,1.88,1.96,2.04,2.12],
[-1.3,1.03,1.12,1.2,1.28,1.36,1.44,1.52,1.6,1.68,1.76,1.84,1.92,2],
[-1.5,1,1.06,1.14,1.22,1.3,1.38,1.46,1.54,1.62,1.7,1.78,1.86,1.94,2.05],
[-1.7,1.04,1.12,1.2,1.28,1.36,1.45,1.53,1.61,1.7,1.78,1.87,1.95,2.1],
[-1.9,1.02,1.1,1.18,1.26,1.34,1.42,1.5,1.58,1.66,1.74,1.82,1.9,1.98,2.1,2.2],
[-2.1,1.05,1.13,1.24,1.36,1.48,1.6,1.7,1.8,1.9,2,2.12,2.45,2.6],
[-2.3,1,1.08,1.2,1.3,1.42,1.55,1.65,1.75,1.85,1.95,2.05,2.15,2.55],
[-2.5,1.02,1.12,1.22,1.4,1.62,1.78,1.9,2.08,2.18,2.5,2.62],
[-2.7,1.04,1.14,1.25,1.5,1.7,1.82,1.92,2.02,2.12,2.2,2.52,2.95,3.06],
[-2.9,1.08,1.2,1.35,1.55,1.75,1.88,2,2.16,2.38,2.55],
[-3.1,1.02,1.12,1.3,1.45,1.6,1.72,1.85,1.95,2.08,2.2,2.45,2.95,3.06],
[-3.35,1.1,1.25,1.4,1.72,1.85,2,2.12,2.5,2.9],
[-3.6,1.05,1.2,1.32,1.42,1.8,1.92,2.04,2.18,2.4,2.5,2.85,3],
[-3.9,1.08,1.18,1.35,1.7,1.9,2.28,2.48,2.65],
[-4.1,1.02,1.1,1.2,1.3,1.4,1.55,1.85,1.98,2.35,2.5,2.7,2.96],
[-4.4,1.1,1.22,1.32,1.46,1.85,2.1,2.4,2.55],
[-4.6,1.04,1.15,1.25,1.38,1.5,1.72,1.9,2,2.3,2.45,2.6,2.92],
[-4.9,1.08,1.18,1.3,1.45,1.6,1.9,2.5],
[-5.1,1.02,1.1,1.22,1.32,1.42,1.55,1.82,1.95,2.05,2.6,3],
[-5.4,1.15,1.25,1.35,1.5,1.9,2.1],
[-5.6,1.08,1.18,1.28,1.36,1.45,1.6,1.78,2,2.15,2.85,3.1],
[-5.9,1.18,1.28,1.42,1.95,2.08],
[-6.1,1.12,1.22,1.3,1.4,1.5,1.85,2.02,2.14,2.3],
[-6.4,1.15,1.25,1.35,1.9,2.1,2.25],
[-6.6,1.1,1.2,1.3,1.38,2.02,2.2,2.4],
[-7.1,1.18,1.3,1.95,2.08,2.25,2.5],
[-7.6,1.25,1.95,2.1,2.35,2.5,2.72],
[-8.2,2,2.28,2.42]];
const v3DownOut=[[-9.53,7.7],[-12.57,7.55],[-10.95,7.15],[-8.41,7.2],[-8.16,6.87],[-8.26,6.74],[-9.48,6.74],[-9.17,6.43],[-10.69,6.26],[-9.48,6.24],[-13.48,5.94],[-7.6,5.96],[-6.64,5.88],[-7.1,4.98],[-9.07,4.39],[-5.98,4.44],[-5.02,4.35],[-5.5,4.17],[-5.25,4.17],[-6.9,4.1],[-4.5,4.11],[-12.77,4.1],[-9.07,4.04],[-9.83,3.92],[-6.28,3.83],[-4.76,3.86],[-8.31,3.67],[-3.19,3.54],[-2.99,3.5],[-6.49,3.5],[-5.93,3.45],[-5.68,3.43],[-4.76,3.42],[-4.16,3.42],[-3.4,3.42],[-8.52,3.45],[-7.8,3.28],[-11.66,3.3],[-7.25,3.17],[-10.54,3.12],[-11.5,3.04],[-9.58,3.05],[-9.17,3.06],[-8.31,3.05],[-10.24,2.93],[-6.64,3],[-5.68,2.96],[-4.41,3.06],[-3.75,3],[-2.99,3.06],[-2.48,3.06],[-11.1,1.68],[-9.98,1.86],[-9.07,1.93],[-8.67,2.22],[-8.1,2.5],[-7.9,1.9]];
const v3UpCols=[
[0.9,1,1.09,1.17,1.26,1.35,1.44,1.53,1.63,1.71,1.8,1.89,1.98,2.07,2.16,2.25,2.34,2.43,2.52],
[1.1,1.04,1.13,1.22,1.31,1.4,1.49,1.58,1.67,1.76,1.85,1.94,2.03,2.12,2.21,2.3,2.39,2.48,2.56,2.62],
[1.3,1.02,1.11,1.2,1.29,1.38,1.47,1.56,1.65,1.74,1.83,1.92,2.01,2.1,2.19,2.28,2.37,2.46,2.55,2.64,2.75,2.85],
[1.5,1.05,1.15,1.24,1.33,1.42,1.51,1.6,1.69,1.78,1.87,1.96,2.05,2.14,2.23,2.32,2.41,2.5,2.6,2.7,2.8,2.92,3.05],
[1.7,1,1.1,1.19,1.28,1.37,1.46,1.55,1.64,1.73,1.82,1.91,2,2.09,2.18,2.27,2.36,2.45,2.54,2.63,2.72,2.81,2.9,3.02,3.1],
[1.9,1.06,1.15,1.24,1.33,1.42,1.51,1.6,1.69,1.78,1.87,1.96,2.05,2.14,2.23,2.32,2.41,2.5,2.6,2.68,2.78,2.88,2.96],
[2.1,1.03,1.12,1.21,1.3,1.39,1.48,1.57,1.66,1.75,1.84,1.93,2.02,2.11,2.2,2.29,2.38,2.47,2.56,2.65,2.74,2.83,2.92,3],
[2.3,1.07,1.16,1.25,1.34,1.43,1.52,1.61,1.7,1.79,1.88,1.97,2.06,2.15,2.24,2.33,2.42,2.52,2.62,2.72,2.85,3],
[2.5,1.01,1.1,1.2,1.29,1.38,1.47,1.56,1.65,1.74,1.83,1.92,2.01,2.1,2.19,2.28,2.37,2.46,2.55,2.7,2.82,3.02],
[2.7,1.08,1.18,1.27,1.36,1.45,1.54,1.63,1.72,1.82,1.95,2.05,2.15,2.25,2.35,2.45,2.58,2.78,2.98],
[2.9,1.04,1.14,1.23,1.32,1.41,1.5,1.6,1.7,1.8,1.9,2,2.1,2.2,2.3,2.42,2.5,2.65,3.05,3.3],
[3.1,1.1,1.2,1.3,1.42,1.52,1.65,1.75,1.85,2.05,2.18,2.28,2.38,2.55,2.75],
[3.3,1.02,1.12,1.22,1.34,1.44,1.55,1.66,1.78,1.88,2,2.12,2.24,2.34,2.48,2.6,2.9,3.25],
[3.5,1.08,1.25,1.38,1.5,1.62,1.72,1.9,2.05,2.3,2.45,2.62,3.12],
[3.7,1.05,1.18,1.3,1.42,1.55,1.68,1.8,1.95,2.1,2.22,2.35,2.52,2.95,3.35],
[3.9,1.1,1.24,1.35,1.48,1.6,1.74,1.88,2.02,2.28,2.42,2.7,3],
[4.1,1.02,1.14,1.28,1.4,1.52,1.65,1.8,1.92,2.02,2.15,2.32,2.5,2.8,3.2],
[4.3,1.06,1.2,1.34,1.46,1.6,1.72,1.88,1.98,2.4,2.62],
[4.5,1.08,1.2,1.33,1.46,1.58,1.7,1.84,1.98,2.1,2.22,2.45,2.7,3.1],
[4.7,1.12,1.24,1.42,1.54,1.66,1.8,1.92,2.06,2.3],
[4.9,1.02,1.15,1.26,1.38,1.5,1.62,1.75,1.88,2,2.15,2.55],
[5.1,1.08,1.22,1.32,1.45,1.58,1.72,1.85,2,2.12],
[5.3,1.06,1.2,1.32,1.44,1.56,1.7,1.82,1.95,2.08,2.5,2.9,3.2],
[5.5,1.12,1.28,1.4,1.52,1.65,1.78,1.9,2.02,2.55,2.75],
[5.7,1.02,1.12,1.25,1.36,1.48,1.6,1.75,1.9,2.02,2.18,2.48],
[5.9,1.16,1.3,1.42,1.55,1.7,1.85,1.98,2.12],
[6.1,1.08,1.2,1.3,1.42,1.55,1.68,1.8,1.92,2.05,2.2,3.02],
[6.3,1.12,1.26,1.36,1.5,1.62,1.75,1.88,2.12,2.28],
[6.5,1.04,1.18,1.28,1.4,1.52,1.66,1.78,1.9,2.12,2.28,3.04],
[6.7,1.1,1.22,1.34,1.45,1.58,1.72,1.84,2,2.18],
[6.9,1.02,1.14,1.25,1.38,1.5,1.62,1.76,1.88,2,2.32,2.42],
[7.1,1.15,1.28,1.42,1.55,1.7,1.85,1.98,2.15,2.38],
[7.3,1.06,1.22,1.34,1.48,1.62,1.8,1.95,2.05,2.25,2.48,3.28],
[7.8,1.3,1.5,1.7,1.85,2,2.1,2.38,2.55],
[8.3,1.68,1.85,1.98,2.2,2.32,2.6],
[8.8,1.75,1.9,2.05,2.25,2.38,2.42],
[9.3,1.88,2,2.12,2.3,2.5],
[9.9,1.85,2.05,2.2,2.35]];
const v3UpOut=[[7.96,6.64],[13.74,6.63],[9.28,6.36],[8.77,6.25],[8.72,6.02],[8.97,5.01],[11.05,4.87],[5.73,4.62],[7.25,4.62],[7.7,4.36],[16.27,4.22],[5.22,4.2],[5.63,4.13],[4.1,4.1],[6.99,3.83],[6.64,3.73],[3.55,3.76],[4.21,3.68],[2.33,3.54],[3.09,3.46],[4.36,3.48],[6.13,3.45],[7.5,3.34],[11.5,2.68],[9.83,2.72],[8.92,1.37]];

// ---------- Panel D, Venn ----------
const vennCounts=["300","55","39","23","175","16","1152"];
const vennShares=["(17%)","(3.1%)","(2.2%)","(1.3%)","(9.9%)","(0.9%)","(65.5%)"];
const vennSets=["GSE23552","GSE36830","GSE179265"];

// ---------- drawing ----------
const svg=d3.select("#c");
const SERIF='"Liberation Serif","Times New Roman",serif';
const NAVY="#0C2A67",RED="#E9401D",CRED="#F01010";
const heat=d3.scaleLinear().domain([-1.5,-1,-.5,0,.5,1,1.5]).range(["#4575B4","#91BFDB","#E0F3F8","#FFFFBF","#FEE090","#FC8D59","#D73027"]);
function T(x,y,s,o={}){const t=svg.append("text").attr("x",x).attr("y",y).text(s).attr("dominant-baseline","central")
 .attr("font-size",o.size||12).attr("fill",o.fill||"#000").attr("text-anchor",o.anchor||"start");
 if(o.serif)t.style("font-family",SERIF);if(o.bold!==false&&o.serif||o.bold)t.attr("font-weight","bold");
 if(o.rot!==undefined)t.attr("transform",`rotate(${o.rot},${x},${y})`);return t;}
function colPositions(groups,x0,w,gap){const a=[];let i=0;groups.forEach((n,g)=>{for(let k=0;k<n;k++){a.push(x0+i*w+g*gap);i++;}});return a;}
function treeCol(tree,xc,hs){const p=d3.path();const rec=t=>{if(typeof t==="number")return{x:xc[t],y:hs(0)};
  const a=rec(t[1]),b=rec(t[2]),y=hs(t[0]);p.moveTo(a.x,a.y);p.lineTo(a.x,y);p.lineTo(b.x,y);p.lineTo(b.x,b.y);return{x:(a.x+b.x)/2,y};};
  rec(tree);return p.toString();}
function treeRow(tree,yc,hs){const p=d3.path();const rec=t=>{if(typeof t==="number")return{y:yc(t),x:hs(0)};
  const a=rec(t[1]),b=rec(t[2]),x=hs(t[0]);p.moveTo(a.x,a.y);p.lineTo(x,a.y);p.lineTo(x,b.y);p.lineTo(b.x,b.y);return{y:(a.y+b.y)/2,x};};
  rec(tree);return p.toString();}
function heatmap(c){
 const xs=colPositions(c.groups,c.x0,c.w,c.gap);
 const yb=d3.scaleBand().domain(d3.range(c.rows.length)).range([c.y0,c.y1]);
 const g=svg.append("g");
 c.values.forEach((row,r)=>row.forEach((v,k)=>g.append("rect").attr("x",xs[k]).attr("y",yb(r)).attr("width",c.w).attr("height",yb.bandwidth())
   .attr("fill",heat(v/10)).attr("stroke","#999").attr("stroke-width",.8)));
 c.ann.forEach(an=>an.values.forEach((v,k)=>g.append("rect").attr("x",xs[k]).attr("y",an.y).attr("width",c.w).attr("height",an.h)
   .attr("fill",an.colors[v]).attr("stroke","#999").attr("stroke-width",.8)));
 c.rows.forEach((s,r)=>T(c.labelX,yb(r)+yb.bandwidth()/2,s,{size:c.labelSize,fill:"#222"}));
 c.cols.forEach((s,k)=>{T(xs[k]+c.w/2,c.colLabelY,s,{size:c.colSize,fill:"#333",rot:90});});
 svg.append("path").attr("d",treeCol(c.colTree,xs.map(x=>x+c.w/2),d3.scaleLinear().domain([0,c.colTree[0]]).range(c.colTreeY))).attr("fill","none").attr("stroke","#222").attr("stroke-width",1.1);
 svg.append("path").attr("d",treeRow(c.rowTree,r=>yb(r)+yb.bandwidth()/2,d3.scaleLinear().domain([0,c.rowTree[0]]).range(c.rowTreeX))).attr("fill","none").attr("stroke","#222").attr("stroke-width",1.1);
}
function colorbar(x,w,y0,y1,labelX,size){
 const ys=d3.scaleLinear().domain([1.5,-1.5]).range([y0,y1]);
 const n=120;d3.range(n).forEach(i=>{const v=1.5-3*i/n;svg.append("rect").attr("x",x).attr("width",w).attr("y",ys(v)).attr("height",(y1-y0)/n+.5).attr("fill",heat(v));});
 [1.5,1,.5,0,-.5,-1,-1.5].forEach(v=>T(labelX,ys(v)+1.5,String(v),{size,fill:"#222"}));
}
function swatches(x,w,y,h,colors,labels,tx,size){colors.forEach((c,i)=>{svg.append("rect").attr("x",x).attr("y",y+i*h).attr("width",w).attr("height",h).attr("fill",c).attr("stroke","#aaa").attr("stroke-width",.6);
  T(tx,y+i*h+h/2,labels[i],{size,fill:"#222"});});}
function tri(cx,y0,y1,hw,fill){svg.append("path").attr("d",d3.line()([[cx-hw,y0],[cx+hw,y0],[cx,y1]])+"Z").attr("fill",fill);}
function frame(x0,x1,y0,y1,col){svg.append("rect").attr("x",x0).attr("y",y0).attr("width",x1-x0).attr("height",y1-y0).attr("fill","none").attr("stroke",col).attr("stroke-width",2.2);}

// panel letters
T(1,15,"A",{size:27,bold:true});T(563,1176,"B",{size:27,bold:true});T(1,1590,"C",{size:27,bold:true});T(1168,1590,"D",{size:27,bold:true});

// H1
const T1={i:"#CDB300",m:"#17D6D6",b:"#7FB2FF",p:"#0AD06A"};
heatmap({groups:h1Groups,x0:93,w:10.95,gap:5.35,rows:h1Rows,cols:h1Cols.map(s=>"GSM577"+s),values:h1Values,y0:219.7,y1:656.7,labelX:507,labelSize:10.4,colSize:11,colLabelY:661.5,
 ann:[{y:183.7,h:14,values:h1Tissue,colors:T1},{y:200.6,h:14.3,values:h1Disease,colors:{C:"#FB7CFB",N:"#FD8F88"}}],
 colTree:h1ColTree,colTreeY:[182.7,106.5],rowTree:h1RowTree,rowTreeX:[92,15]});
T(507,192,"Tissue",{size:14,bold:true,fill:"#222"});T(507,210,"Disease",{size:14,bold:true,fill:"#222"});
frame(105,181,180.5,658,RED);frame(314,371,180.5,658,NAVY);
tri(141,156,171,9,"#F00000");tri(343,156,171,9,NAVY);
T(93,83.5,"Cluster 2",{size:25,serif:true,fill:CRED});T(296,83.5,"Cluster 1",{size:25,serif:true,fill:NAVY});T(497,81.5,"[GSE23552]",{size:27.6,serif:true});
colorbar(570,14.5,182,400,591,14);
T(573.5,430,"Tissue",{size:13.5,bold:true,fill:"#222"});
swatches(573,24.5,440,24,[T1.i,T1.m,T1.b,T1.p],["inflamed mucosa","mucosa","mucosa-polyp","polyp"],601.5,13.8);
T(573.5,562,"Disease",{size:13.5,bold:true,fill:"#222"});
swatches(573,24.5,572,24.5,["#FB7CFB","#FD8F88"],["Control","Nasal polyp"],601.5,13.8);

// H2
heatmap({groups:h2Groups,x0:840.5,w:19.7,gap:7.6,rows:h2Rows,cols:h2Cols,values:h2Values,y0:245.5,y1:1066.8,labelX:1221,labelSize:13,colSize:14.2,colLabelY:1070,
 ann:[{y:202,h:17,values:h2Tissue,colors:{N:"#00D5DA",U:"#D98CFB"}},{y:223,h:17,values:h2Disease,colors:{C:"#8FC400",R:"#FB8C84"}}],
 colTree:h2ColTree,colTreeY:[200.7,110],rowTree:h2RowTree,rowTreeX:[839.5,748]});
T(1222,213,"Tissue",{size:16,bold:true,fill:"#222"});T(1222,234,"Disease",{size:16,bold:true,fill:"#222"});
frame(1136.5,1220,199,1068.5,RED);frame(964.5,984,199,1068.5,NAVY);frame(1006.6,1043,199,1068.5,NAVY);frame(1064.8,1084.6,199,1068.5,NAVY);
tri(973.3,176,191,9,NAVY);tri(1025.3,176,191,9,NAVY);tri(1074.7,176,191,9,NAVY);tri(1175,176,191,9,"#F00000");
T(990.5,83,"Cluster 1",{size:25,serif:true,fill:NAVY});T(1122,85,"Cluster 2",{size:25,serif:true,fill:CRED});T(1375,83,"[GSE36830]",{size:27.6,serif:true});
colorbar(1343,16.5,200.7,460.2,1368,16);
T(1352,501,"Tissue",{size:14.5,bold:true,fill:"#222"});
swatches(1352,24,510,23.4,["#00D5DA","#D98CFB"],["nasal polyp (NP) tissue","uncinate tissue (UT)"],1380,13.5);
T(1352,581,"Disease",{size:14.5,bold:true,fill:"#222"});
swatches(1352,24,590.3,23,["#8FC400","#FB8C84"],["Control","CRS with nasal polyps (CRSwNP)"],1380,13.5);

// H3
heatmap({groups:h3Groups,x0:98,w:13.65,gap:5.8,rows:h3Rows,cols:h3Cols,values:h3Values,y0:917.5,y1:1319.6,labelX:452.7,labelSize:14,colSize:12,colLabelY:1324,
 ann:[{y:880.8,h:14.2,values:h3Disease,colors:{H:"#BFBF00",N:"#00C8FF"}},{y:899,h:14.5,values:h3Class,colors:{K:"#FB80FB",J:"#00D48A",C:"#FB8A85"}}],
 colTree:h3ColTree,colTreeY:[879.6,802],rowTree:h3RowTree,rowTreeX:[97.5,20]});
T(452.7,890,"Disease",{size:14,bold:true,fill:"#222"});T(452.7,907.8,"Classfication",{size:14,bold:true,fill:"#222"});
frame(96,179.6,878,1322.5,NAVY);frame(182.8,267,878,1322.5,RED);
tri(138.3,860.4,875,8.5,NAVY);tri(228,860.4,875,8.5,"#F00000");
T(79.6,782,"Cluster 1",{size:25,serif:true,fill:NAVY});T(184,782,"Cluster 2",{size:25,serif:true,fill:CRED});T(491,784,"[GSE179265]",{size:27.6,serif:true});
colorbar(544.8,14,879.6,1101,565.7,14);
T(594.5,887.8,"Disease",{size:14.5,bold:true,fill:"#222"});
swatches(594.5,25,897,24.5,["#BFBF00","#00C8FF"],["Healthy control","Nasal polyp"],624,14.4);
T(594.5,972.7,"Classfication",{size:14.5,bold:true,fill:"#222"});
swatches(594.5,25,983,24.4,["#FB8A85","#FB80FB","#00D48A"],["Caucasian","Healthy control","Japanse"],624,14.4);

// PCA
function pca(o){
 const x=d3.scaleLinear().domain(o.xd).range([o.x0,o.x1]),y=d3.scaleLinear().domain(o.yd).range([o.y1,o.y0]);
 svg.append("rect").attr("x",o.x0).attr("y",o.y0).attr("width",o.x1-o.x0).attr("height",o.y1-o.y0).attr("fill","#EBEBEB");
 const half=t=>t.slice(1).map((v,i)=>(v+t[i])/2);
 half(o.yt).forEach(v=>svg.append("line").attr("x1",o.x0).attr("x2",o.x1).attr("y1",y(v)).attr("y2",y(v)).attr("stroke","#fff").attr("stroke-width",.5));
 half(o.xt).forEach(v=>svg.append("line").attr("y1",o.y0).attr("y2",o.y1).attr("x1",x(v)).attr("x2",x(v)).attr("stroke","#fff").attr("stroke-width",.5));
 o.yt.forEach(v=>svg.append("line").attr("x1",o.x0).attr("x2",o.x1).attr("y1",y(v)).attr("y2",y(v)).attr("stroke","#fff").attr("stroke-width",1));
 o.xt.forEach(v=>svg.append("line").attr("y1",o.y0).attr("y2",o.y1).attr("x1",x(v)).attr("x2",x(v)).attr("stroke","#fff").attr("stroke-width",1));
 const ax=svg.append("g").attr("transform",`translate(0,${o.y1})`).call(d3.axisBottom(x).tickValues(o.xt).tickSize(2).tickPadding(2).tickFormat(v=>v));
 const ay=svg.append("g").attr("transform",`translate(${o.x0},0)`).call(d3.axisLeft(y).tickValues(o.yt).tickSize(2).tickPadding(1).tickFormat(o.yf||(v=>v)));
 [ax,ay].forEach(a=>{a.select(".domain").remove();a.selectAll("text").attr("fill","#999").attr("font-size",9);a.selectAll("line").attr("stroke","#aaa");});
 o.c1.forEach(p=>svg.append("circle").attr("cx",x(p[0])).attr("cy",y(p[1])).attr("r",3.4).attr("fill","#F8766D"));
 const s=d3.symbol(d3.symbolTriangle).size(42)();
 o.c2.forEach(p=>svg.append("path").attr("d",s).attr("transform",`translate(${x(p[0])},${y(p[1])})`).attr("fill","#00B4BA"));
}
pca({x0:605.3,x1:857.6,y0:1234.3,y1:1486.7,xd:[-53.7,59.4],yd:[-29.7,31.2],xt:[-30,0,30],yt:[-30,-20,-10,0,10,20,30],yf:Math.abs,c1:pca1C1,c2:pca1C2});
pca({x0:904,x1:1155.7,y0:1235.3,y1:1487.3,xd:[-57.2,63],yd:[-54.9,63],xt:[-30,0,30,60],yt:[-30,0,30,60],c1:pca2C1,c2:pca2C2});
pca({x0:1214.3,x1:1460.6,y0:1236.7,y1:1483.3,xd:[-210,181],yd:[-199,249],xt:[-200,-100,0,100],yt:[-100,0,100,200],c1:pca3C1,c2:pca3C2});
T(662.5,1201.5,"[GSE23552]",{size:27.6,serif:true});T(957,1201.5,"[GSE36830]",{size:27.6,serif:true});T(1255,1201,"[GSE179265]",{size:27.6,serif:true});
T(643,1517.7,"PC1: 50% variance",{size:19.4,serif:true});T(946,1519,"PC1: 26% variance",{size:19.4,serif:true});T(1253,1517.7,"PC1: 19% variance",{size:19.4,serif:true});
T(568,1367,"PC2: 13% variance",{size:19.4,serif:true,anchor:"middle",rot:-90});T(880,1368,"PC2: 14% variance",{size:19.4,serif:true,anchor:"middle",rot:-90});T(1186,1367,"PC2: 12% variance",{size:19.4,serif:true,anchor:"middle",rot:-90});
svg.append("rect").attr("x",1466).attr("y",1244).attr("width",22).attr("height",50).attr("fill","#EBEBEB");
svg.append("circle").attr("cx",1477).attr("cy",1256.7).attr("r",4.5).attr("fill","#F8766D");
svg.append("path").attr("d",d3.symbol(d3.symbolTriangle).size(70)()).attr("transform","translate(1477,1283)").attr("fill","#00B4BA");
T(1497.6,1253,"Cluster 1",{size:21.5,serif:true});T(1497.6,1281,"Cluster 2",{size:21.5,serif:true});

// Volcano
const flat=cols=>cols.flatMap(c=>c.slice(1).map(y=>[c[0],y]));
function volcano(o){
 const x=d3.scaleLinear().domain([0,1]).range([o.zero,o.zero+o.sx]),y=d3.scaleLinear().domain(o.yRef).range(o.yPx);
 o.yt.forEach(v=>svg.append("line").attr("x1",o.gx0).attr("x2",o.gx1).attr("y1",y(v)).attr("y2",y(v)).attr("stroke","#F0F0F0"));
 o.xt.forEach(v=>svg.append("line").attr("x1",x(v)).attr("x2",x(v)).attr("y1",o.top).attr("y2",o.bot-10).attr("stroke","#F4F4F4"));
 svg.append("line").attr("x1",o.zero).attr("x2",o.zero).attr("y1",o.top).attr("y2",o.bot).attr("stroke","#666").attr("stroke-width",1);
 const ax=svg.append("g").attr("transform",`translate(0,${o.bot-1})`).call(d3.axisBottom(x).tickValues(o.xt).tickSize(0).tickPadding(2).tickFormat(d3.format("d")));
 const ay=svg.append("g").attr("transform",`translate(${o.gx0-1},0)`).call(d3.axisLeft(y).tickValues(o.yt).tickSize(0).tickPadding(2).tickFormat(o.yf||(v=>v)));
 [ax,ay].forEach(a=>{a.select(".domain").remove();a.selectAll("text").attr("fill","#777").attr("font-size",11);});
 o.down.forEach(p=>svg.append("circle").attr("cx",x(p[0])).attr("cy",y(p[1])).attr("r",2.4).attr("fill","#66C2A5"));
 o.up.forEach(p=>svg.append("circle").attr("cx",x(p[0])).attr("cy",y(p[1])).attr("r",2.4).attr("fill","#8DA0CB"));
}
volcano({zero:219.4,sx:26.63,yRef:[1,6],yPx:[1990,1680.3],top:1640.7,bot:2010.7,gx0:70,gx1:432.6,xt:[-4,-2,0,2,4,6,8],yt:[1,2,3,4,5,6],down:flat(v1DownCols).concat(v1DownOut),up:flat(v1UpCols).concat(v1UpOut)});
volcano({zero:618.4,sx:52.9,yRef:[1,1.8],yPx:[1999,1685],top:1678,bot:2010.7,gx0:495,gx1:829,xt:[-2,-1,0,1,2,3],yt:[1,1.1,1.2,1.3,1.4,1.5,1.6,1.7,1.8],yf:d3.format(".1~f"),down:v2Down,up:flat(v2UpCols).concat(v2UpOut)});
volcano({zero:1032.8,sx:10,yRef:[1,8],yPx:[1992.7,1678],top:1671.7,bot:2010.7,gx0:882.6,gx1:1213,xt:[-15,-10,-5,0,5,10,15],yt:[1,2,3,4,5,6,7,8],down:flat(v3DownCols).concat(v3DownOut),up:flat(v3UpCols).concat(v3UpOut)});
T(148,1625,"[GSE23552]",{size:27.6,serif:true});T(543,1626,"[GSE36830]",{size:27.6,serif:true});T(949.6,1625,"[GSE179265]",{size:27.6,serif:true});
T(153,2051.7,"Log2 fold change",{size:22,serif:true});T(548.5,2053,"Log2 fold change",{size:22,serif:true});T(942,2049,"Log2 fold change",{size:22,serif:true});
T(20,1856,"-log10(FDR)",{size:22,serif:true,anchor:"middle",rot:-90});T(453,1856,"-log10(FDR)",{size:22,serif:true,anchor:"middle",rot:-90});T(845.6,1850,"-log10(FDR)",{size:22,serif:true,anchor:"middle",rot:-90});
const gene=(x,y,s)=>T(x,y,s,{size:14,serif:true,anchor:"middle"});
[["CCL8",283,1667],["CCL13",365,1668],["CCL18",424.5,1685],["OSM",272,1697],["CCL24",327.5,1698],["CST1",383,1731],["CLC",383,1802.7],["CRISP3",91,1812],["PIP",87,1852.7],["C6orf58",85,1900],["PRB4",84,1942.3],["STATH",91,1967.3]].forEach(a=>gene(a[1],a[2],a[0]));
[["F13A1",730.6,1692.7],["TSGA13",557,1714],["BCL2A1",739,1735.7],["WIF1",525.5,1751],["OSM",757.6,1782],["ADCYAP1",783,1805.7],["OR5G1P",518,1808.7],["EREG",756,1829],["MS4A12",529,1839.7],["CCL13",785,1865],["CCL18",808,1742]].forEach(a=>gene(a[1],a[2],a[0]));
[["ADCY8",955,1702],["TRAV8-1",1108,1724.7],["VSTM1",1179,1725],["SCGN",914.6,1745.3],["STATH",896.4,1786.7],["IL5",1152.4,1805.3],["IL1RL1",1096.7,1822.7],["CCL18",1189.5,1834.7],["CRISP3",904.5,1839.3],["OSM",1128.6,1847.3]].forEach(a=>gene(a[1],a[2],a[0]));

// Venn
[[1343.4,1775,"#0000FF"],[1475.7,1775,"#FFFF00"],[1409.3,1890.3,"#00FF00"]].forEach(c=>svg.append("ellipse").attr("cx",c[0]).attr("cy",c[1]).attr("rx",100.8).attr("ry",101.5).attr("fill",c[2]).attr("fill-opacity",.5));
[[1343.4,1775],[1475.7,1775],[1409.3,1890.3]].forEach(c=>svg.append("ellipse").attr("cx",c[0]).attr("cy",c[1]).attr("rx",100.8).attr("ry",101.5).attr("fill","none").attr("stroke","#111").attr("stroke-width",1.1));
T(1322.8,1640.3,vennSets[0],{size:20,serif:true,anchor:"middle"});T(1494.7,1640,vennSets[1],{size:20,serif:true,anchor:"middle"});T(1417,2025,vennSets[2],{size:20,serif:true,anchor:"middle"});
[[1322.8,1745.7,1764.3,16.5,14],[1500.8,1743.7,1762.3,16.5,14],[1409,1759.3,1778.3,16.5,14],[1410.5,1811.3,1826.3,14.5,12],[1354.3,1841.7,1860,16.5,14],[1466.8,1837.3,1855.7,16.5,14],[1413,1901,1919.7,16.5,14]].forEach((a,i)=>{
 T(a[0],a[1],vennCounts[i],{size:a[3],serif:true,anchor:"middle"});T(a[0],a[2],vennShares[i],{size:a[4],serif:true,anchor:"middle"});});
</script></body></html>
